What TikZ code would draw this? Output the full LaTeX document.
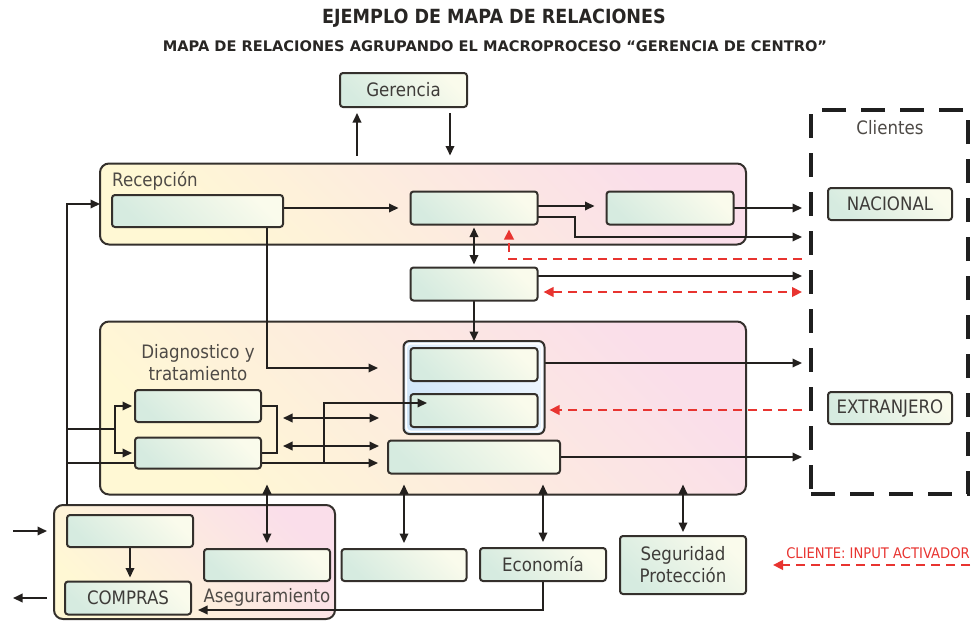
\documentclass[tikz,border=0pt]{standalone}
\usepackage{fontspec}
\setmainfont{DejaVu Sans}[FakeStretch=0.9]
\newfontfamily\widefont{DejaVu Sans}
\usetikzlibrary{arrows.meta,calc}
\pgfdeclarelayer{grplayer}
\pgfdeclarelayer{conlayer}
\pgfsetlayers{grplayer,conlayer,main}
\definecolor{boxline}{RGB}{52,48,44}
\definecolor{mint}{RGB}{214,235,224}
\definecolor{cream}{RGB}{250,251,236}
\definecolor{gyel}{RGB}{255,248,212}
\definecolor{gpink}{RGB}{250,222,234}
\definecolor{bluel}{RGB}{208,229,248}
\definecolor{bluer}{RGB}{238,246,255}
\definecolor{txt}{RGB}{62,60,57}
\definecolor{lbltxt}{RGB}{78,74,70}
\definecolor{lin}{RGB}{35,32,30}
\definecolor{redc}{RGB}{232,52,48}
\definecolor{ttlc}{RGB}{40,38,36}
\newcommand\bxfont{\fontsize{18.5}{22}\selectfont}
\begin{document}
\begin{tikzpicture}[x=1pt,y=-1pt,
  box/.style={draw=boxline, line width=2pt, rounded corners=3pt, left color=mint, right color=cream, shading angle=135, inner sep=0pt, outer sep=0pt, text=txt, font=\bxfont, align=center},
  grp/.style={draw=boxline, line width=2pt, rounded corners=9pt, left color=gyel, right color=gpink, shading angle=135, inner sep=0pt, outer sep=0pt},
  qgrp/.style={draw=boxline, line width=2pt, rounded corners=6pt, left color=bluel, right color=bluer, shading angle=135, inner sep=0pt, outer sep=0pt},
  cldash/.style={draw=black!88, line width=4pt, dash pattern=on 24pt off 15pt, inner sep=0pt, outer sep=0pt},
  lbl/.style={text=lbltxt, font=\bxfont, inner sep=0pt},
  ttl/.style={text=ttlc, font=\fontsize{19.5}{22}\selectfont\bfseries, inner sep=0pt},
  subttl/.style={text=ttlc, font=\widefont\fontsize{14.6}{17}\selectfont\bfseries, inner sep=0pt},
  legend/.style={text=redc, font=\fontsize{14.6}{16}\selectfont, inner sep=0pt},
  ln/.style={draw=lin, line width=2pt},
  arr/.style={draw=lin, line width=2pt, -{Triangle[length=9.5pt,width=8.5pt]}},
  darr/.style={draw=lin, line width=2pt, {Triangle[length=9.5pt,width=8.5pt]}-{Triangle[length=9.5pt,width=8.5pt]}},
  redarr/.style={draw=redc, line width=2.4pt, dash pattern=on 9pt off 6pt, -{Triangle[length=10pt,width=9.5pt]}},
  reddarr/.style={draw=redc, line width=2.4pt, dash pattern=on 9pt off 6pt, {Triangle[length=10pt,width=9.5pt]}-{Triangle[length=10pt,width=9.5pt]}}
]
\useasboundingbox (0,0) rectangle (973,621);

% titles
\node[ttl] (title) at (494,18) {EJEMPLO DE MAPA DE RELACIONES};
\node[subttl] (subtitle) at (495,46) {MAPA DE RELACIONES AGRUPANDO EL MACROPROCESO “GERENCIA DE CENTRO”};

% groups
\begin{pgfonlayer}{grplayer}
\node[grp, minimum width=646pt, minimum height=81pt] (g1) at (423,204) {};
\node[grp, minimum width=646pt, minimum height=173pt] (g2) at (423,408) {};
\node[grp, minimum width=281pt, minimum height=114pt] (g3) at (194.5,562) {};
\end{pgfonlayer}
\node[lbl, anchor=west] (lrec) at (112,181) {Recepción};
\node[lbl, align=center] (ldiag) at (198,363) {Diagnostico y\\tratamiento};
\node[lbl] (laseg) at (267,597) {Aseguramiento};

% clients
\node[cldash, minimum width=157pt, minimum height=384pt] (cl) at (889.5,302) {};
\node[lbl] (lcl) at (890,128) {Clientes};
\node[box, minimum width=124pt, minimum height=32pt] (nac) at (890,204) {NACIONAL};
\node[box, minimum width=124pt, minimum height=32pt] (ext) at (890,408) {EXTRANJERO};

% boxes
\node[box, minimum width=127pt, minimum height=34pt] (ger) at (403.5,90) {Gerencia};
\node[box, minimum width=171pt, minimum height=32pt] (R1) at (197.5,211) {};
\node[box, minimum width=127pt, minimum height=33pt] (R2) at (474,208) {};
\node[box, minimum width=127pt, minimum height=33pt] (R3) at (670,208) {};
\node[box, minimum width=127pt, minimum height=33pt] (M) at (474,284) {};
\node[qgrp, minimum width=141pt, minimum height=93pt] (Q) at (474,387.5) {};
\draw[white, line width=1.6pt, rounded corners=4pt] ([shift={(2.7pt,2.7pt)}]Q.south west) rectangle ([shift={(-2.7pt,-2.7pt)}]Q.north east);
\node[box, minimum width=127pt, minimum height=33pt] (Q1) at (474,364.5) {};
\node[box, minimum width=127pt, minimum height=33pt] (Q2) at (474,410.5) {};
\node[box, minimum width=172pt, minimum height=33pt] (E) at (474,457) {};
\node[box, minimum width=126pt, minimum height=32pt] (D1) at (198,406) {};
\node[box, minimum width=126pt, minimum height=31pt] (D2) at (198,453) {};
\node[box, minimum width=126pt, minimum height=32pt] (C1) at (130,531) {};
\node[box, minimum width=126pt, minimum height=33pt] (CO) at (128,598) {COMPRAS};
\node[box, minimum width=126pt, minimum height=32pt] (A) at (267,565) {};
\node[box, minimum width=125pt, minimum height=32pt] (B1) at (404,565) {};
\node[box, minimum width=126pt, minimum height=33pt] (EC) at (543,564.5) {Economía};
\node[box, minimum width=126pt, minimum height=58pt] (SG) at (683,565) {Seguridad\\Protección};

% legend
\node[legend] (leg) at (878,553) {CLIENTE: INPUT ACTIVADOR};
\coordinate (la) at (970,565);
\coordinate (lb) at (773,565);
\draw[redarr] (la) -- (lb);

% coordinates
\coordinate (ga) at (357,0);
\coordinate (gb) at (450,0);
\coordinate (lx) at (67,0);
\coordinate (xa) at (267,0);
\coordinate (c1) at (802,208);
\coordinate (c2) at (802,237);
\coordinate (c3) at (802,259);
\coordinate (c4) at (802,276);
\coordinate (c5) at (802,292);
\coordinate (c6) at (802,363);
\coordinate (c7) at (802,410);
\coordinate (c8) at (802,457);
\coordinate (k1) at (575,237);
\coordinate (k2) at (378,368);
\coordinate (fork) at (115,429);
\coordinate (k4) at (0,463);
\coordinate (k5) at (324,463);
\coordinate (k6) at (427,403);
\coordinate (k7) at (277,0);
\coordinate (d1a) at (283,418);
\coordinate (d1b) at (379,418);
\coordinate (d2a) at (283,446);
\coordinate (d2b) at (379,446);
\coordinate (lin1) at (13,531);
\coordinate (lout) at (13,598);

\begin{pgfonlayer}{conlayer}
% gerencia
\draw[arr, shorten <=8pt, shorten >=6pt] (g1.north -| ga) -- (ger.south -| ga);
\draw[arr, shorten <=6pt, shorten >=8pt] (ger.south -| gb) -- (g1.north -| gb);
% left loop
\draw[arr] (g3.north -| lx) |- (g1.west);
% reception
\draw[arr, shorten >=12pt] (R1.east |- R2.west) -- (R2.west);
\draw[arr, shorten >=12pt] ([yshift=2pt]R2.east) -- ([yshift=2pt]R3.west);
\draw[arr] ([yshift=-9pt]R2.east) -| (k1) -- (c2);
\draw[arr] (R3.east) -- (c1);
\draw[redarr, shorten >=5pt] (c3) -| ([xshift=35pt]R2.south);
\draw[darr, shorten <=3pt, shorten >=3pt] (R2.south) -- (M.north);
\draw[arr] (M.east |- c4) -- (c4);
\draw[reddarr, shorten <=6pt] (M.east |- c5) -- (c5);
\draw[arr] (M.south) -- (Q.north);
% diagnostico
\draw[arr] (Q.east |- c6) -- (c6);
\draw[redarr, shorten >=5pt] (c7) -- (Q.east |- c7);
\draw[arr] (E.east) -- (c8);
\draw[arr] (R1.south -| xa) |- (k2);
\draw[ln] (lx |- fork) -- (fork);
\draw[arr, shorten >=3pt] (fork) |- (D1.west);
\draw[arr, shorten >=3pt] (fork) |- (D2.west);
\draw[ln] (lx |- k4) -- (D2.west |- k4);
\draw[arr, shorten >=10pt] (D2.east |- k4) -- (E.west |- k4);
\draw[ln] (D1.east) -| (k7 |- D2.east) -- (D2.east);
\draw[darr] (d1a) -- (d1b);
\draw[darr] (d2a) -- (d2b);
% support processes
\draw[darr, shorten <=-10pt, shorten >=6pt] (g2.south -| A) -- (A.north);
\draw[darr, shorten <=-10pt, shorten >=6pt] (g2.south -| B1) -- (B1.north);
\draw[darr, shorten <=-10pt, shorten >=6pt] (g2.south -| EC) -- (EC.north);
\draw[darr, shorten <=-10pt, shorten >=4pt] (g2.south -| SG) -- (SG.north);
\draw[arr, shorten >=7pt] (EC.south) |- ([yshift=-12pt]CO.east);
\draw[arr, shorten >=4pt] (C1.south) -- (C1.south |- CO.north);
\draw[arr, shorten >=7pt] (lin1) -- (g3.west |- lin1);
\draw[arr, shorten <=7pt] (g3.west |- lout) -- (lout);
\end{pgfonlayer}
\draw[arr] (k5) |- (k6);
\end{tikzpicture}
\end{document}
